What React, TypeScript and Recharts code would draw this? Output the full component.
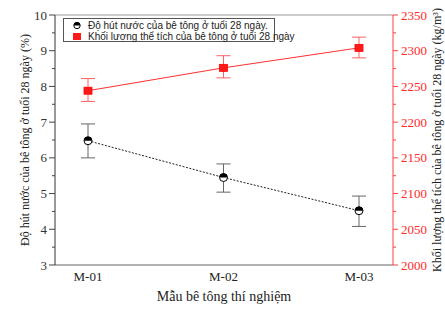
import React from 'react';
import { LineChart, Line, XAxis, YAxis, ErrorBar, ReferenceLine, Legend } from 'recharts';

const categories = ['M-01', 'M-02', 'M-03'];
const absorption = [6.48, 5.45, 4.52];
const absorptionErr = [[0.48, 0.47], [0.41, 0.38], [0.44, 0.41]];
const density = [2244, 2276, 2304];
const densityErr = [[15, 17], [14, 17], [14, 15]];
const leftTicks = [3, 3.5, 4, 4.5, 5, 5.5, 6, 6.5, 7, 7.5, 8, 8.5, 9, 9.5, 10];
const rightTicks = [2000, 2025, 2050, 2075, 2100, 2125, 2150, 2175, 2200, 2225, 2250, 2275, 2300, 2325, 2350];
const absorptionName = 'Độ hút nước của bê tông ở tuổi 28 ngày.';
const densityName = 'Khối lượng thể tích của bê tông ở tuổi 28 ngày';

const data = categories.map((c, i) => ({
  name: c,
  abs: absorption[i],
  absErr: absorptionErr[i],
  den: density[i],
  denErr: densityErr[i],
}));

const SERIF = '"Liberation Serif", "Times New Roman", serif';
const SANS = '"Liberation Sans", Arial, sans-serif';

const LeftTick = (props: any) => {
  const { x, y, payload } = props;
  const v = payload.value;
  const major = Math.abs(v - Math.round(v)) < 1e-6;
  const axisX = x + 6 + 2;
  return (
    <g>
      <line x1={axisX} x2={axisX - (major ? 6 : 3)} y1={y} y2={y} stroke="#444" strokeWidth={1} />
      {major && (
        <text x={x} y={y} dy="0.35em" textAnchor="end" fontFamily={SERIF} fontSize={13} fill="#333">
          {v}
        </text>
      )}
    </g>
  );
};

const RightTick = (props: any) => {
  const { x, y, payload } = props;
  const v = payload.value;
  const major = v % 50 === 0;
  const axisX = x - 5 - 3;
  return (
    <g>
      <line x1={axisX} x2={axisX + (major ? 5 : 3)} y1={y} y2={y} stroke="#ff4040" strokeWidth={1} />
      {major && (
        <text x={x} y={y} dy="0.35em" textAnchor="start" fontFamily={SERIF} fontSize={13} fill="#ff2a2a">
          {v}
        </text>
      )}
    </g>
  );
};

const AbsDot = (props: any) => {
  const { cx, cy } = props;
  if (cx == null || cy == null) return null;
  const r = 4;
  return (
    <g>
      <circle cx={cx} cy={cy} r={r} fill="#fff" stroke="#000" strokeWidth={1} />
      <path d={`M${cx - r},${cy} A${r},${r} 0 0 1 ${cx + r},${cy} Z`} fill="#000" />
    </g>
  );
};

const DenDot = (props: any) => {
  const { cx, cy } = props;
  if (cx == null || cy == null) return null;
  return <rect x={cx - 4} y={cy - 3.5} width={8} height={7} fill="#ff1a1a" stroke="#ff0000" strokeWidth={0.8} />;
};

const LegendBox = () => (
  <div
    style={{
      border: '1px solid #555',
      width: 212,
      height: 24,
      boxSizing: 'border-box',
      fontFamily: SANS,
      fontSize: 10,
      color: '#222',
      position: 'relative',
      background: '#fff',
    }}
  >
    <svg width={20} height={24} style={{ position: 'absolute', left: 6, top: 0 }}>
      <circle cx={7} cy={6.5} r={3.2} fill="#fff" stroke="#000" strokeWidth={1} />
      <path d="M3.8,6.5 A3.2,3.2 0 0 1 10.2,6.5 Z" fill="#000" />
      <rect x={3} y={14} width={8} height={7} fill="#ff1a1a" />
    </svg>
    <div style={{ position: 'absolute', left: 24, top: 1, lineHeight: '11px', whiteSpace: 'nowrap' }}>{absorptionName}</div>
    <div style={{ position: 'absolute', left: 24, top: 12, lineHeight: '11px', whiteSpace: 'nowrap' }}>{densityName}</div>
  </div>
);

export default function App() {
  return (
    <div style={{ position: 'absolute', left: 0, top: 0, background: '#fff' }}>
      <LineChart width={445} height={332} data={data} margin={{ top: 15, right: 12, bottom: 13, left: 15 }}>
        <XAxis
          dataKey="name"
          type="category"
          padding={{ left: 33, right: 34 }}
          axisLine={{ stroke: '#666' }}
          tickLine={false}
          tickSize={6}
          tickMargin={1}
          height={30}
          tick={{ fontFamily: SERIF, fontSize: 13, fill: '#222' }}
          label={{
            content: (p: any) => {
              const vb = p.viewBox;
              return (
                <text x={vb.x + vb.width / 2} y={vb.y + 36} textAnchor="middle" fontFamily={SERIF} fontSize={14} fill="#222">
                  Mẫu bê tông thí nghiệm
                </text>
              );
            },
          }}
        />
        <YAxis
          yAxisId="left"
          orientation="left"
          width={40}
          domain={[3, 10]}
          ticks={leftTicks}
          interval={0}
          axisLine={{ stroke: '#333' }}
          tickLine={false}
          tickSize={6}
          tickMargin={2}
          tick={<LeftTick />}
          label={{
            content: (p: any) => {
              const vb = p.viewBox;
              const cx = vb.x + 10;
              const cy = vb.y + vb.height / 2;
              return (
                <text x={cx} y={cy} dy="0.35em" textAnchor="middle" transform={`rotate(-90 ${cx} ${cy})`} fontFamily={SERIF} fontSize={12} fill="#222">
                  Độ hút nước của bê tông ở tuổi 28 ngày (%)
                </text>
              );
            },
          }}
        />
        <YAxis
          yAxisId="right"
          orientation="right"
          width={40}
          domain={[2000, 2350]}
          ticks={rightTicks}
          interval={0}
          axisLine={{ stroke: '#ff4040' }}
          tickLine={false}
          tickSize={5}
          tickMargin={3}
          tick={<RightTick />}
          label={{
            content: (p: any) => {
              const vb = p.viewBox;
              const cx = vb.x + 44;
              const cy = vb.y + vb.height / 2;
              return (
                <text x={cx} y={cy} dy="0.35em" textAnchor="middle" transform={`rotate(-90 ${cx} ${cy})`} fontFamily={SERIF} fontSize={12} fill="#222">
                  Khối lượng thể tích của bê tông ở tuổi 28 ngày (kg/m³)
                </text>
              );
            },
          }}
        />
        <ReferenceLine yAxisId="left" y={10} stroke="#999" strokeWidth={1} />
        <Legend
          content={<LegendBox />}
          wrapperStyle={{ position: 'absolute', left: 63, top: 18, width: 'auto', height: 'auto' }}
        />
        <Line
          yAxisId="left"
          dataKey="abs"
          name={absorptionName}
          stroke="#222"
          strokeWidth={1}
          strokeDasharray="2 1.5"
          dot={<AbsDot />}
          activeDot={false}
          isAnimationActive={false}
        >
          <ErrorBar dataKey="absErr" width={7} stroke="#666" strokeWidth={1} direction="y" />
        </Line>
        <Line
          yAxisId="right"
          dataKey="den"
          name={densityName}
          stroke="#ff3030"
          strokeWidth={1}
          dot={<DenDot />}
          activeDot={false}
          isAnimationActive={false}
        >
          <ErrorBar dataKey="denErr" width={7} stroke="#ff6060" strokeWidth={1} direction="y" />
        </Line>
      </LineChart>
    </div>
  );
}
